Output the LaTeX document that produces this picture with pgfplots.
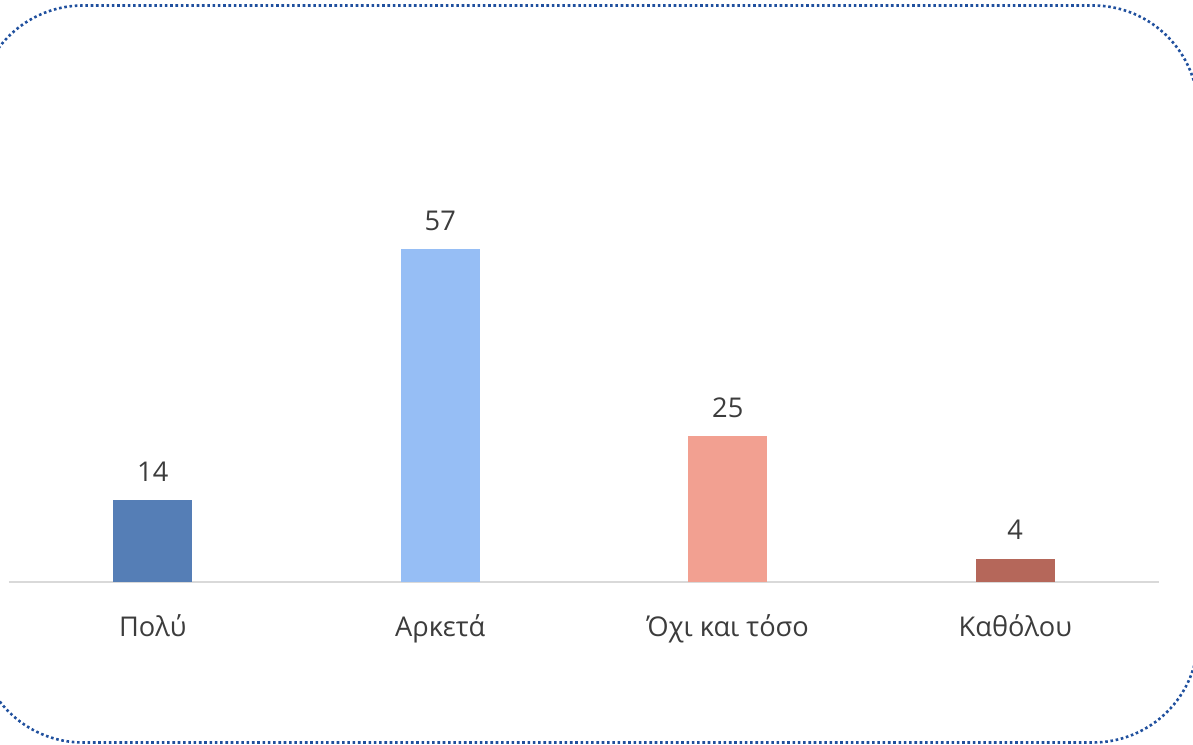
\documentclass[border=0pt]{standalone}
\usepackage{fontspec}
\setmainfont{Open Sans}
\usepackage{pgfplots}
\pgfplotsset{compat=1.18}
\definecolor{bordblue}{RGB}{32,80,158}
\definecolor{txtgray}{RGB}{60,60,60}
\definecolor{axgray}{RGB}{217,217,217}
\definecolor{barA}{RGB}{85,126,182}
\definecolor{barB}{RGB}{150,190,245}
\definecolor{barC}{RGB}{242,160,145}
\definecolor{barD}{RGB}{181,103,90}

\begin{document}
\begin{tikzpicture}[x=0.5pt,y=0.5pt]
  \path[use as bounding box] (0,0) rectangle (1193,744);
  \begin{scope}
    \clip (0,0) rectangle (1193,744);
    \draw[bordblue, line width=1.3pt, dash pattern=on 1.3pt off 1.35pt,
          rounded corners=52.5pt] (-22,1.5) rectangle (1198,738.5);
  \end{scope}
  \begin{axis}[
      at={(4.5pt,81pt)}, anchor=south west,
      scale only axis, width=575pt, height=233.6pt,
      xmin=-0.5, xmax=3.5, ymin=0, ymax=80,
      ybar, bar width=39.5pt, bar shift=0pt,
      axis x line=bottom, hide y axis,
      axis line style={-, draw=axgray, line width=0.8pt},
      xtick={0,1,2,3},
      xticklabels={Πολύ, Αρκετά, Όχι και τόσο, Καθόλου},
      xtick style={draw=none},
      xticklabel style={anchor=base, yshift=-25pt, text=txtgray,
                        font=\fontsize{13.6}{16}\selectfont},
      /pgf/number format/assume math mode=true,
      nodes near coords,
      nodes near coords style={anchor=base, yshift=9.5pt, text=txtgray,
                               font=\fontsize{13.6}{16}\selectfont},
      clip=false,
    ]
    \addplot[fill=barA, draw=none] coordinates {(0,14)};
    \addplot[fill=barB, draw=none] coordinates {(1,57)};
    \addplot[fill=barC, draw=none] coordinates {(2,25)};
    \addplot[fill=barD, draw=none] coordinates {(3,4)};
  \end{axis}
\end{tikzpicture}
\end{document}
